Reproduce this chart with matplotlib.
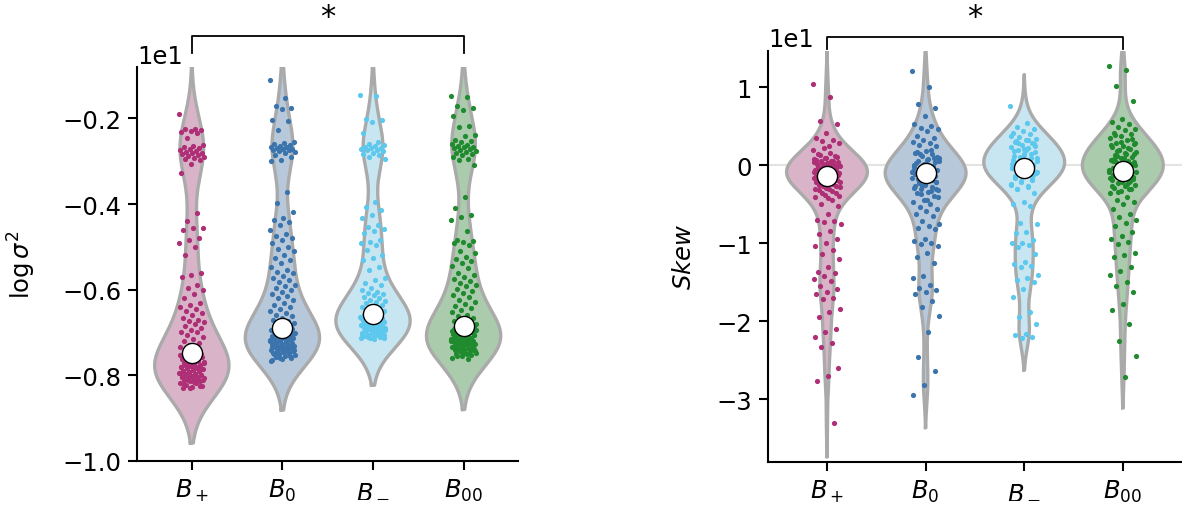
import numpy as np
import matplotlib
matplotlib.use("Agg")
import matplotlib.pyplot as plt
import matplotlib.transforms as mtransforms

groups = ["B+", "B0", "B-", "B00"]
tick_labels = [r"$B_+$", r"$B_0$", r"$B_-$", r"$B_{00}$"]
point_colors = ["#ae2f75", "#3b74ad", "#5cc8ee", "#1f8a2e"]
fill_colors = ["#d9b4c9", "#b7c8da", "#c7e6f2", "#abcbad"]

# log sigma^2 per group (true units, axis shows them x1e1)
logvar_bp = [-1.9, -2.25, -2.25, -2.28, -2.3, -2.32, -2.35, -2.45, -2.62, -2.65, -2.68, -2.7,
             -2.72, -2.75, -2.77, -2.78, -2.8, -2.82, -2.84, -2.85, -2.87, -2.9, -2.92, -2.95,
             -2.98, -3.07, -3.28, -4.2, -4.4, -4.55, -4.55, -4.6, -4.8, -4.85, -4.9, -5.0, -5.2,
             -5.6, -5.65, -5.7, -5.9, -5.95, -6.0, -6.1, -6.2, -6.3, -6.35, -6.4, -6.45, -6.5,
             -6.55, -6.6, -6.65, -6.7, -6.72, -6.75, -6.8, -6.85, -6.9, -6.95, -7.0, -7.0, -7.05,
             -7.1, -7.15, -7.2, -7.25, -7.3, -7.35, -7.4, -7.45, -7.5, -7.55, -7.6, -7.62, -7.65,
             -7.68, -7.7, -7.72, -7.75, -7.77, -7.8, -7.8, -7.82, -7.85, -7.87, -7.9, -7.9, -7.92,
             -7.95, -7.97, -8.0, -8.0, -8.02, -8.05, -8.08, -8.1, -8.12, -8.15, -8.2, -8.25, -8.3,
             -7.52, -7.54, -7.57, -7.58, -7.61, -7.63, -7.66, -7.69, -7.71, -7.74, -7.76, -7.78,
             -7.79, -7.81, -7.83, -7.84, -7.86, -7.88, -7.89, -7.91, -7.93, -7.94, -7.96, -7.98,
             -7.99, -8.01, -8.03, -8.04, -8.06, -8.07, -8.09, -8.11, -8.13, -8.14, -8.17, -8.19,
             -8.22, -8.24, -8.27, -8.29]
logvar_b0 = [-1.1, -1.52, -1.72, -1.75, -1.78, -2.03, -2.07, -2.28, -2.55, -2.58, -2.6, -2.62,
             -2.64, -2.66, -2.68, -2.7, -2.71, -2.72, -2.74, -2.75, -2.77, -2.79, -2.82, -2.85,
             -2.9, -2.98, -3.0, -3.71, -3.98, -4.18, -4.32, -4.38, -4.42, -4.49, -4.6, -4.7,
             -4.75, -4.8, -4.85, -4.9, -5.0, -5.05, -5.1, -5.2, -5.25, -5.3, -5.38, -5.47, -5.53,
             -5.58, -5.62, -5.68, -5.72, -5.77, -5.82, -5.88, -5.92, -5.97, -6.0, -6.05, -6.1,
             -6.15, -6.2, -6.25, -6.3, -6.35, -6.4, -6.45, -6.5, -6.54, -6.58, -6.62, -6.66, -6.7,
             -6.73, -6.76, -6.79, -6.82, -6.85, -6.88, -6.91, -6.94, -6.97, -7.0, -7.03, -7.06,
             -7.09, -7.12, -7.15, -7.18, -7.21, -7.24, -7.27, -7.3, -7.33, -7.36, -7.39, -7.42,
             -7.46, -7.5, -7.55, -7.6, -7.67,
             -6.9, -6.92, -6.93, -6.95, -6.96, -6.98, -6.99, -7.01, -7.02, -7.04, -7.05, -7.07,
             -7.08, -7.1, -7.11, -7.13, -7.14, -7.16, -7.17, -7.19, -7.2, -7.22, -7.23, -7.25,
             -7.26, -7.28, -7.29, -7.31, -7.32, -7.34, -7.35, -7.37, -7.38, -7.4, -7.41, -7.43,
             -7.44, -7.46, -7.47, -7.49, -7.51, -7.53, -7.55, -7.57, -7.59, -7.62, -7.64]
logvar_bm = [-1.45, -1.48, -2.02, -2.05, -2.08, -2.34, -2.56, -2.6, -2.63, -2.65, -2.67, -2.69,
             -2.7, -2.72, -2.73, -2.75, -2.77, -2.8, -2.83, -2.86, -2.9, -2.96, -3.95, -4.08,
             -4.15, -4.25, -4.33, -4.49, -4.53, -4.58, -4.63, -4.68, -4.84, -4.88, -4.92, -4.95,
             -5.07, -5.2, -5.25, -5.3, -5.47, -5.55, -5.72, -5.78, -5.85, -5.9, -5.95, -6.0,
             -6.05, -6.07, -6.1, -6.13, -6.16, -6.2, -6.23, -6.26, -6.29, -6.32, -6.35, -6.38,
             -6.41, -6.44, -6.47, -6.5, -6.53, -6.56, -6.59, -6.62, -6.65, -6.68, -6.71, -6.74,
             -6.77, -6.8, -6.83, -6.86, -6.89, -6.92, -6.95, -6.98, -7.01, -7.04, -7.07, -7.1,
             -7.13, -7.16,
             -6.58, -6.6, -6.61, -6.63, -6.64, -6.66, -6.67, -6.69, -6.7, -6.72, -6.73, -6.75,
             -6.76, -6.78, -6.79, -6.81, -6.82, -6.84, -6.85, -6.87, -6.88, -6.9, -6.91, -6.93,
             -6.94, -6.96, -6.97, -6.99, -7.0, -7.02, -7.03, -7.05, -7.06, -7.08, -7.09, -7.11,
             -7.12, -7.14]
logvar_b00 = [-1.48, -1.5, -1.72, -1.77, -1.8, -1.95, -2.17, -2.21, -2.38, -2.42, -2.5, -2.53,
              -2.56, -2.59, -2.62, -2.64, -2.66, -2.68, -2.7, -2.72, -2.74, -2.76, -2.78, -2.8,
              -2.83, -2.86, -2.9, -2.95, -2.98, -3.1, -3.83, -4.1, -4.25, -4.3, -4.37, -4.64,
              -4.84, -4.86, -4.88, -4.92, -4.95, -5.1, -5.15, -5.23, -5.28, -5.33, -5.37, -5.45,
              -5.5, -5.6, -5.66, -5.7, -5.75, -5.8, -5.84, -5.88, -5.92, -5.98, -6.03, -6.08,
              -6.13, -6.18, -6.23, -6.28, -6.33, -6.38, -6.43, -6.48, -6.53, -6.58, -6.62, -6.66,
              -6.69, -6.72, -6.75, -6.78, -6.81, -6.84, -6.87, -6.9, -6.93, -6.96, -6.99, -7.02,
              -7.05, -7.08, -7.11, -7.14, -7.17, -7.2, -7.23, -7.26, -7.29, -7.32, -7.35, -7.38,
              -7.41, -7.44, -7.47, -7.5, -7.53, -7.56, -7.6, -7.63,
              -6.86, -6.88, -6.89, -6.91, -6.92, -6.94, -6.95, -6.97, -6.98, -7.0, -7.01, -7.03,
              -7.04, -7.06, -7.07, -7.09, -7.1, -7.12, -7.13, -7.15, -7.16, -7.18, -7.19, -7.21,
              -7.22, -7.24, -7.25, -7.27, -7.28, -7.3, -7.31, -7.33, -7.34, -7.36, -7.37, -7.39,
              -7.4, -7.42, -7.43, -7.45, -7.48, -7.51, -7.54]
logvar_center = [-7.49, -6.9, -6.56, -6.84]

# skewness per group (true units, axis shows them x1e1)
skew_bp = [10.4, 8.8, 5.7, 5.3, 4.2, 3.5, 3.2, 3.1, 2.8, 2.5, 1.4, 1.2, 1.0, 0.8, 0.6, 0.5, 0.4,
           0.3, 0.2, 0.1, 0.0, -0.1, -0.2, -0.3, -0.4, -0.5, -0.6, -0.8, -0.9, -1.0, -1.2, -1.3,
           -1.4, -1.5, -1.6, -1.7, -1.8, -1.9, -2.0, -2.2, -2.4, -2.6, -2.8, -3.0, -3.2, -3.5,
           -3.8, -4.0, -4.5, -5.0, -5.2, -6.3, -7.0, -7.2, -7.3, -7.5, -8.4, -8.8, -9.5, -10.0,
           -10.4, -10.8, -11.4, -12.0, -13.1, -13.7, -13.8, -14.2, -14.6, -14.8, -15.5, -15.9,
           -16.2, -16.5, -17.0, -17.2, -18.4, -18.8, -19.5, -21.0, -21.4, -22.0, -22.8, -23.3,
           -26.0, -27.0, -27.6, -33.1,
           2.2, 1.9, 1.6, 1.3, 1.1, 0.9, 0.7, 0.5, 0.3, 0.1, -0.1, -0.3, -0.5, -0.7, -0.9, -1.1,
           -1.2, -1.3, -1.5, -1.6, -1.8, -1.9, -2.1, -2.3, -2.5, -2.7, -2.9, -3.1, -3.3, -3.6,
           -3.9, -4.2, -0.2, -0.6, -1.0, 0.4, 0.0, -0.4, -0.8, 0.2, -1.15, -1.35]
skew_b0 = [12.1, 10.0, 7.8, 7.3, 6.3, 5.3, 5.0, 4.8, 4.6, 4.4, 3.7, 3.5, 3.2, 3.0, 2.8, 2.6,
           2.5, 1.8, 1.6, 1.4, 1.2, 1.0, 0.8, 0.6, 0.4, 0.2, 0.0, -0.2, -0.4, -0.6, -0.8, -1.0,
           -1.2, -1.4, -1.6, -1.8, -2.0, -2.2, -2.4, -2.6, -2.8, -3.0, -3.2, -3.4, -3.6, -3.9,
           -4.4, -4.7, -5.0, -5.3, -5.6, -5.9, -6.2, -6.5, -7.2, -7.5, -7.8, -8.0, -8.2, -9.5,
           -9.7, -9.9, -10.1, -10.4, -11.2, -11.8, -12.5, -14.2, -14.4, -15.3, -15.7, -16.0,
           -16.2, -16.5, -17.4, -18.2, -19.3, -21.4, -24.6, -26.4, -28.2, -29.5,
           2.0, 1.5, 1.1, 0.7, 0.3, -0.1, -0.5, -0.9, -1.3, -1.7, -2.1, -2.5, -2.9, -3.3, -3.7,
           -4.1, -4.5, 1.7, 0.9, 0.1, -0.7, -1.5, -2.3, -3.1, -0.3, -1.1, -1.9, -2.7, 0.5, -0.6,
           -1.0, -1.4, -1.8, -0.2, -0.8]
skew_bm = [7.6, 5.4, 4.9, 4.6, 4.4, 4.2, 4.0, 3.6, 3.4, 3.2, 3.0, 2.8, 2.6, 2.4, 2.2, 2.0, 1.7,
           1.4, 1.2, 1.0, 0.8, 0.6, 0.4, 0.2, 0.0, -0.2, -0.4, -0.6, -0.8, -1.0, -1.3, -1.6,
           -1.9, -2.2, -2.5, -2.8, -3.1, -3.5, -4.7, -5.0, -5.2, -7.4, -7.5, -8.5, -8.7, -9.6,
           -9.9, -10.0, -10.2, -10.5, -11.4, -12.4, -12.7, -12.9, -13.1, -14.1, -14.4, -14.7,
           -15.0, -15.9, -16.9, -18.8, -19.5, -20.3, -21.6, -21.8, -22.0, -22.2,
           3.8, 3.3, 2.9, 2.5, 2.1, 1.8, 1.5, 1.1, 0.9, 0.5, 0.3, 0.1, -0.1, -0.3, -0.5, -0.7,
           -0.9, -1.1, -1.4, -1.7, -2.0, -2.4, -2.7, -3.0, 2.7, 1.3, 0.7, -0.05, -0.45, -0.85,
           1.9, 3.1, -1.2, -0.6, 0.15]
skew_b00 = [12.7, 12.2, 10.2, 8.2, 6.0, 5.6, 5.3, 4.9, 4.7, 4.5, 4.2, 4.0, 3.7, 3.5, 3.3, 2.9,
            2.7, 2.5, 2.3, 2.1, 1.9, 1.7, 1.5, 1.3, 1.1, 0.9, 0.7, 0.5, 0.3, 0.1, -0.1, -0.3,
            -0.5, -0.7, -0.9, -1.1, -1.3, -1.5, -1.7, -1.9, -2.1, -2.3, -2.5, -2.7, -2.9, -3.1,
            -3.3, -3.6, -4.0, -4.4, -4.7, -5.0, -5.6, -6.3, -6.6, -7.0, -7.4, -7.8, -8.5, -9.0,
            -9.5, -9.8, -10.1, -11.2, -11.5, -11.8, -13.1, -13.5, -14.0, -14.9, -15.5, -16.3,
            -17.8, -18.5, -20.3, -22.5, -24.4, -27.2,
            3.9, 3.4, 3.0, 2.6, 2.2, 1.8, 1.4, 1.0, 0.6, 0.2, -0.2, -0.6, -1.0, -1.4, -1.8, -2.2,
            -2.6, -3.0, -3.4, 2.8, 1.6, 0.8, 0.0, -0.8, -1.6, -2.4, 1.2, 0.4, -0.4, -1.2, -2.0,
            2.0, -0.9, -0.3, 0.5]
skew_center = [-1.4, -1.0, -0.4, -0.75]


def kde_outline(vals, bw_adjust=1.0, cut=2, npts=400):
    vals = np.asarray(vals, dtype=float)
    bw = vals.std(ddof=1) * len(vals) ** (-1 / 5) * bw_adjust
    grid = np.linspace(vals.min() - cut * bw, vals.max() + cut * bw, npts)
    dens = np.exp(-0.5 * ((grid[:, None] - vals[None, :]) / bw) ** 2).sum(axis=1)
    return grid, dens / dens.max()


def draw_panel(ax, data, centers, ylim, ylabel, label_x, bw_adjust):
    for i, vals in enumerate(data):
        grid, dens = kde_outline(vals, bw_adjust)
        half = dens * 0.41
        ax.fill_betweenx(grid, i - half, i + half, color=fill_colors[i], lw=0, zorder=1)
        ax.plot(np.r_[i - half, (i + half)[::-1], i - half[0]], np.r_[grid, grid[::-1], grid[0]],
                color="#aaaaaa", lw=2.4, zorder=2, solid_joinstyle="round")
        n = len(vals)
        jit = ((np.arange(n) * 0.618034) % 1 - 0.5) * 0.28
        ax.scatter(i + jit, vals, s=14, color=point_colors[i], lw=0, zorder=3)
    ax.plot(range(len(data)), centers, "o", ms=14.5, mfc="white", mec="black", mew=1.0,
            ls="none", zorder=4)
    ax.set_xlim(-0.6, 3.6)
    ax.set_ylim(*ylim)
    ax.set_xticks(range(len(data)))
    ax.set_xticklabels(tick_labels)
    ax.ticklabel_format(axis="y", style="sci", scilimits=(0, 0))
    ax.yaxis.get_offset_text().set_fontsize(17.5)
    ax.spines["top"].set_visible(False)
    ax.spines["right"].set_visible(False)
    for s in ["left", "bottom"]:
        ax.spines[s].set_linewidth(1.5)
    ax.tick_params(labelsize=17.5, length=6.5, width=1.5, pad=5)
    ax.set_ylabel(ylabel, fontsize=17.5)
    ax.yaxis.set_label_coords(label_x, 0.5)


def bracket(ax, x0, x1, y_low, y_top, y_star):
    tr = mtransforms.blended_transform_factory(ax.transData, ax.transAxes)
    ax.plot([x0, x0, x1, x1], [y_low, y_top, y_top, y_low], color="black", lw=1.3,
            transform=tr, clip_on=False)
    ax.text((x0 + x1) / 2, y_star, "*", ha="center", va="center", fontsize=22,
            transform=tr)


fig = plt.figure(figsize=(11.82, 5.06), dpi=100)
ax1 = fig.add_axes([0.1163, 0.087, 0.3219, 0.7787])
ax2 = fig.add_axes([0.6496, 0.0856, 0.3504, 0.8123])

ax2.axhline(0, color="#e3e3e3", lw=1.5, zorder=0)

draw_panel(ax1, [logvar_bp, logvar_b0, logvar_bm, logvar_b00], logvar_center,
           (-10.0, -0.8), r"$\log\sigma^2$", -0.261, 0.85)
draw_panel(ax2, [skew_bp, skew_b0, skew_bm, skew_b00], skew_center,
           (-38.0, 14.7), r"$Skew$", -0.173, 0.7)

bracket(ax1, 0, 3, 1.035, 1.079, 1.127)
bracket(ax2, 0, 3, 1.004, 1.034, 1.082)

fig.savefig("out.png", dpi=100)
